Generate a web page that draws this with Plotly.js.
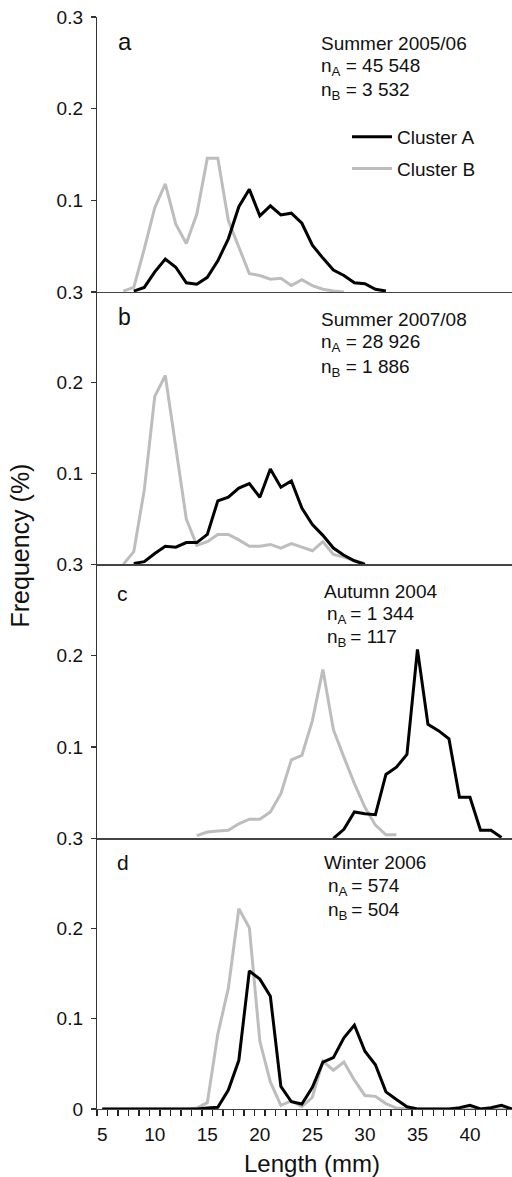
<!DOCTYPE html>
<html><head><meta charset="utf-8">
<script src="https://cdn.plot.ly/plotly-3.0.1.min.js"></script>
<style>html,body{margin:0;padding:0;background:#fff;overflow:hidden}</style>
</head><body><div id="chart" style="width:512px;height:1177px"></div>
<script>
// ---- data (length in mm, frequency) ----
const lenA_a = [8,9,10,11,12,13,14,15,16,17,18,19,20,21,22,23,24,25,26,27,28,29,30,31,32];
const freqA_a = [0.001,0.005,0.022,0.036,0.027,0.010,0.0085,0.016,0.034,0.058,0.093,0.112,0.083,0.094,0.084,0.086,0.075,0.051,0.037,0.024,0.018,0.010,0.009,0.003,0.001];
const lenB_a = [7,8,9,10,11,12,13,14,15,16,17,18,19,20,21,22,23,24,25,26,27,28];
const freqB_a = [0.001,0.005,0.047,0.092,0.118,0.074,0.053,0.085,0.146,0.146,0.078,0.049,0.020,0.018,0.014,0.015,0.007,0.0135,0.007,0.003,0.001,0];

const lenA_b = [8,9,10,11,12,13,14,15,16,17,18,19,20,21,22,23,24,25,26,27,28,29,30];
const freqA_b = [0.001,0.003,0.012,0.020,0.019,0.024,0.024,0.033,0.070,0.074,0.084,0.089,0.074,0.105,0.085,0.092,0.062,0.044,0.032,0.018,0.010,0.004,0];
const lenB_b = [7,8,9,10,11,12,13,14,15,16,17,18,19,20,21,22,23,24,25,26,27,28,29,30];
const freqB_b = [0,0.014,0.082,0.185,0.208,0.128,0.050,0.021,0.025,0.033,0.033,0.027,0.020,0.020,0.022,0.018,0.023,0.019,0.015,0.025,0.011,0.008,0.004,0.001];

const lenA_c = [27,28,29,30,31,32,33,34,35,36,37,38,39,40,41,42,43];
const freqA_c = [0,0.010,0.029,0.027,0.026,0.070,0.078,0.092,0.207,0.125,0.118,0.109,0.045,0.045,0.009,0.009,0.001];
const lenB_c = [14,15,16,17,18,19,20,21,22,23,24,25,26,27,28,29,30,31,32,33];
const freqB_c = [0.003,0.007,0.008,0.009,0.016,0.021,0.021,0.029,0.049,0.086,0.091,0.129,0.185,0.119,0.089,0.060,0.034,0.0145,0.004,0.004];

const lenA_d = [5,6,7,8,9,10,11,12,13,14,15,16,17,18,19,20,21,22,23,24,25,26,27,28,29,30,31,32,33,34,35,36,37,38,39,40,41,42,43,44];
const freqA_d = [0,0,0,0,0,0,0,0,0,0,0.001,0.002,0.021,0.054,0.153,0.144,0.125,0.025,0.008,0.0055,0.024,0.052,0.057,0.079,0.093,0.064,0.049,0.019,0.0105,0.0025,0,0,0,0,0.0015,0.004,0,0.0015,0.004,0];
const lenB_d = [5,6,7,8,9,10,11,12,13,14,15,16,17,18,19,20,21,22,23,24,25,26,27,28,29,30,31,32,33,34,35,36,37,38,39,40,41,42,43,44];
const freqB_d = [0,0,0,0,0,0,0,0,0,0.001,0.007,0.083,0.134,0.222,0.201,0.075,0.030,0.004,0.009,0.0025,0.013,0.053,0.043,0.052,0.032,0.015,0.014,0.006,0.001,0,0,0,0,0,0,0,0,0,0,0];

const panelLetters = ['a','b','c','d'];
const panelTitles = ['Summer 2005/06','Summer 2007/08','Autumn 2004','Winter 2006'];
const nALabels = ['n<sub>A</sub> = 45 548','n<sub>A</sub> = 28 926','n<sub>A</sub>\u2009= 1 344','n<sub>A</sub>\u2009= 574'];
const nBLabels = ['n<sub>B</sub> = 3 532','n<sub>B</sub> = 1 886','n<sub>B</sub>\u2009= 117','n<sub>B</sub>\u2009= 504'];
const xTickVals = [5,10,15,20,25,30,35,40];
const xTickText = ['5','10','15','20','25','30','35','40'];
const seriesNames = ['Cluster A','Cluster B'];

// ---- layout helpers ----
const W = 512, H = 1177, ML = 97, MT = 17, MB = 68, MR = 0;
const PW = W - ML - MR, PH = H - MT - MB;
const fx = p => (p - ML) / PW;
const fy = p => (MT + PH - p) / PH;
const FONT = 'Liberation Sans, Arial, Helvetica, sans-serif';
const BLACK = '#000000', GREY = '#bdbdbd';
const X_RANGE = [4.5, 44.0];

const data = [
  [lenA_a, freqA_a, lenB_a, freqB_a],
  [lenA_b, freqA_b, lenB_b, freqB_b],
  [lenA_c, freqA_c, lenB_c, freqB_c],
  [lenA_d, freqA_d, lenB_d, freqB_d]
];

const traces = [];
data.forEach((d, i) => {
  const xa = i === 0 ? 'x' : 'x' + (i + 1);
  const ya = i === 0 ? 'y' : 'y' + (i + 1);
  traces.push({x: d[2], y: d[3], xaxis: xa, yaxis: ya, type: 'scatter', mode: 'lines',
    name: seriesNames[1], legendgroup: 'B', legendrank: 2, showlegend: i === 0,
    line: {color: GREY, width: 3}, hoverinfo: 'skip'});
  traces.push({x: d[0], y: d[1], xaxis: xa, yaxis: ya, type: 'scatter', mode: 'lines',
    name: seriesNames[0], legendgroup: 'A', legendrank: 1, showlegend: i === 0,
    line: {color: BLACK, width: 3}, hoverinfo: 'skip'});
});
// empty trace so the label axis (x5, overlaying x4) gets its subplot
traces.push({x: [], y: [], xaxis: 'x5', yaxis: 'y4', type: 'scatter', mode: 'lines', showlegend: false, hoverinfo: 'skip'});

// panel pixel bounds (top, bottom)
const bounds = [[17, 292], [292, 564.4], [564.4, 838.4], [838.4, 1109]];

const layout = {
  width: W, height: H,
  margin: {l: ML, r: MR, t: MT, b: MB, pad: 0},
  paper_bgcolor: '#fff', plot_bgcolor: '#fff',
  font: {family: FONT, size: 19, color: '#111'},
  showlegend: true,
  legend: {x: fx(347), y: fy(118), xanchor: 'left', yanchor: 'top',
    font: {size: 19, color: '#111'}, bgcolor: 'rgba(0,0,0,0)', borderwidth: 0,
    traceorder: 'grouped', tracegroupgap: 4, itemwidth: 40},
  annotations: []
};

for (let i = 0; i < 4; i++) {
  const s = i === 0 ? '' : String(i + 1);
  const [top, bot] = bounds[i];
  layout['xaxis' + s] = {
    anchor: 'y' + s, range: X_RANGE, showgrid: false, zeroline: false,
    showline: true, linecolor: '#444', linewidth: 1.3, ticks: '',
    showticklabels: false, fixedrange: true
  };
  layout['yaxis' + s] = {
    anchor: 'x' + s, domain: [fy(bot), fy(top)], range: [0, 0.3],
    showgrid: false, zeroline: false, showline: true, linecolor: '#333', linewidth: 1.2,
    ticks: 'outside', ticklen: 5, tickcolor: '#333', tickwidth: 1.2,
    tickvals: [0, 0.1, 0.2, 0.3],
    ticktext: i === 0 ? ['0.3', '0.1', '0.2', '0.3'] : (i === 3 ? ['0', '0.1', '0.2', ''] : ['0.3', '0.1', '0.2', '']),
    tickfont: {size: 19, color: '#111'}, ticklabelstandoff: 4, fixedrange: true
  };
}
// bottom axis: one tick at every class boundary (1 mm)
Object.assign(layout.xaxis4, {
  tickmode: 'linear', tick0: 4.5, dtick: 1,
  ticks: 'outside', ticklen: 6, tickcolor: '#222', tickwidth: 1.4
});
// label axis over the bottom axis: labels at class centres
layout.xaxis5 = {
  overlaying: 'x4', anchor: 'y4', side: 'bottom', range: X_RANGE,
  showgrid: false, zeroline: false, showline: false, ticks: '',
  tickmode: 'array', tickvals: xTickVals, ticktext: xTickText,
  tickfont: {size: 19, color: '#111'}, ticklabelstandoff: 12, fixedrange: true
};

const letterPos = [[116, 50, 24], [116, 325, 23], [115, 600.7, 21], [115, 870, 21]];
const titleBase = [50, 326, 598.3, 869.3];
const titleLeft = [319, 319, 321.7, 321.7];
const nALeft = [319, 319, 325, 326];
const nABase = [73.3, 350, 621.7, 893.3];
const nBBase = [97.7, 374.3, 645, 917.3];

for (let i = 0; i < 4; i++) {
  const [lx, lb, lf] = letterPos[i];
  layout.annotations.push({text: panelLetters[i], xref: 'paper', yref: 'paper', x: fx(lx), y: fy(lb - 0.35 * lf),
    xanchor: 'left', yanchor: 'middle', showarrow: false, font: {size: lf, color: '#111'}});
  layout.annotations.push({text: panelTitles[i], xref: 'paper', yref: 'paper', x: fx(titleLeft[i]), y: fy(titleBase[i] - 0.35 * 19),
    xanchor: 'left', yanchor: 'middle', showarrow: false, font: {size: 19, color: '#111'}});
  layout.annotations.push({text: nALabels[i], xref: 'paper', yref: 'paper', x: fx(nALeft[i]), y: fy(nABase[i] - 0.35 * 19),
    xanchor: 'left', yanchor: 'middle', showarrow: false, font: {size: 19, color: '#111'}});
  layout.annotations.push({text: nBLabels[i], xref: 'paper', yref: 'paper', x: fx(nALeft[i]), y: fy(nBBase[i] - 0.35 * 19),
    xanchor: 'left', yanchor: 'middle', showarrow: false, font: {size: 19, color: '#111'}});
}
layout.annotations.push({text: 'Frequency (%)', xref: 'paper', yref: 'paper', x: fx(20), y: fy(545.5),
  xanchor: 'center', yanchor: 'middle', textangle: -90, showarrow: false, font: {size: 25, color: '#111'}});
layout.annotations.push({text: 'Length (mm)', xref: 'paper', yref: 'paper', x: fx(312), y: fy(1163),
  xanchor: 'center', yanchor: 'middle', showarrow: false, font: {size: 24, color: '#111'}});

Plotly.newPlot('chart', traces, layout, {displayModeBar: false, staticPlot: true});
</script></body></html>
